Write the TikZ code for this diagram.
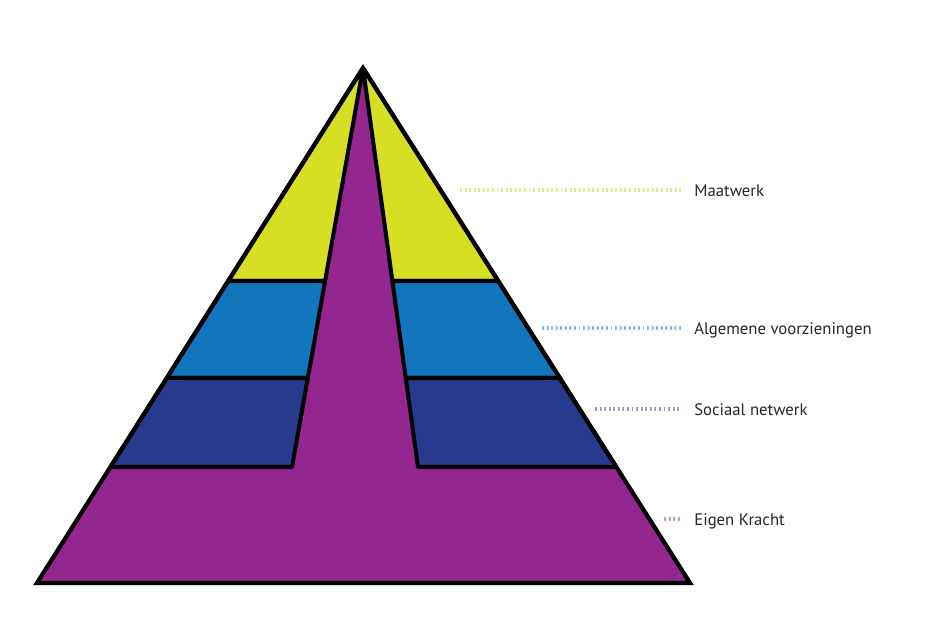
\documentclass[tikz,border=0pt]{standalone}
\usepackage{fontspec}
\setmainfont{PT Sans}
\usetikzlibrary{calc,positioning}
\definecolor{lvlyellow}{HTML}{D6DF24}
\definecolor{lvlblue}{HTML}{1276BC}
\definecolor{lvldark}{HTML}{283A8E}
\definecolor{lvlpurple}{HTML}{93278F}
\definecolor{dotyellow}{HTML}{E4E78E}
\definecolor{dotblue}{HTML}{8FBBDE}
\definecolor{dotdark}{HTML}{9D9DCC}
\definecolor{dotpurple}{HTML}{CB92C9}
\tikzset{
    layer/.style={draw=black, line width=2.3pt, line join=round},
    outline/.style={draw=black, line width=2.4pt, line join=miter},
    lead/.style={line width=2.4pt, dash pattern=on 1.1pt off 1.5pt, shorten >=0.26cm},
    level label/.style={anchor=west, inner sep=0pt, text=black!85,
        font=\fontsize{9.5}{11}\selectfont, text height=1.4ex, text depth=0pt}
}
\begin{document}
\begin{tikzpicture}[x=0.02cm, y=-0.02cm]
    \useasboundingbox (0,0) rectangle (944,642);
    % pyramid corners and the central stalk
    \coordinate (top) at (363,68);
    \coordinate (bl) at (37,583);
    \coordinate (br) at (690,583);
    \coordinate (sl) at (292,467);
    \coordinate (sr) at (418,467);
    \foreach \n/\t/\s in {a/0.4136/0.5338, b/0.6019/0.7769, c/0.7748/1}{
        \coordinate (l\n) at ($(top)!\t!(bl)$);
        \coordinate (r\n) at ($(top)!\t!(br)$);
        \coordinate (p\n) at ($(top)!\s!(sl)$);
        \coordinate (q\n) at ($(top)!\s!(sr)$);
    }
    \fill[lvlpurple] (top) -- (bl) -- (br) -- cycle;
    \begin{scope}[every path/.style={layer}]
        \path[fill=lvlyellow] (top) -- (la) -- (pa) -- cycle;
        \path[fill=lvlyellow] (top) -- (ra) -- (qa) -- cycle;
        \path[fill=lvlblue] (la) -- (lb) -- (pb) -- (pa) -- cycle;
        \path[fill=lvlblue] (ra) -- (rb) -- (qb) -- (qa) -- cycle;
        \path[fill=lvldark] (lb) -- (lc) -- (pc) -- (pb) -- cycle;
        \path[fill=lvldark] (rb) -- (rc) -- (qc) -- (qb) -- cycle;
    \end{scope}
    \draw[outline] (top) -- (bl) -- (br) -- cycle;

    % labels
    \node[level label] (maatwerk) at (694,190) {Maatwerk};
    \node[level label] (algemeen) at (694,328) {Algemene voorzieningen};
    \node[level label] (sociaal) at (694,409) {Sociaal netwerk};
    \node[level label] (eigen) at (694,519) {Eigen Kracht};
    \coordinate (maatwerk start) at (460,190);
    \coordinate (algemeen start) at (542,328);
    \coordinate (sociaal start) at (595,409);
    \coordinate (eigen start) at (664,519);
    \draw[lead, dotyellow] (maatwerk start) -- (maatwerk.west);
    \draw[lead, dotblue] (algemeen start) -- (algemeen.west);
    \draw[lead, dotdark] (sociaal start) -- (sociaal.west);
    \draw[lead, dotpurple] (eigen start) -- (eigen.west);
\end{tikzpicture}
\end{document}
